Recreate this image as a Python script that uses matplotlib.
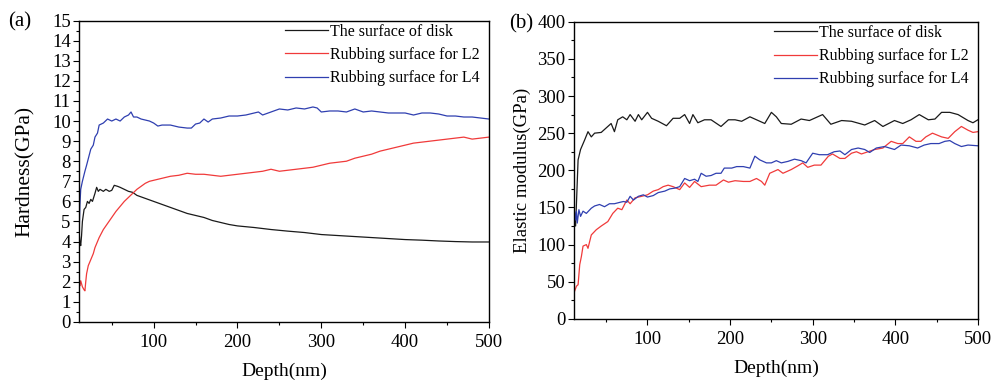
import numpy as np
import matplotlib
matplotlib.use("Agg")
import matplotlib.pyplot as plt
from matplotlib.ticker import MultipleLocator

plt.rcParams['font.family'] = ['Liberation Serif', 'DejaVu Serif']

# ---- (a) hardness ----
h_disk_x = [11, 12, 13, 14, 15, 17, 19, 21, 23, 25, 27, 30, 32, 34, 36, 40, 43, 47, 50, 53, 57,
            60, 65, 70, 75, 80, 90, 100, 110, 120, 130, 140, 150, 160, 170, 180, 190, 200, 220,
            240, 260, 280, 300, 320, 340, 360, 380, 400, 420, 440, 460, 480, 500]
h_disk_y = [4.5, 4.0, 3.8, 4.3, 5.0, 5.6, 5.7, 6.0, 5.9, 6.1, 6.0, 6.4, 6.7, 6.5, 6.6, 6.5, 6.6,
            6.5, 6.55, 6.8, 6.75, 6.7, 6.6, 6.5, 6.45, 6.3, 6.15, 6.0, 5.85, 5.7, 5.55, 5.4, 5.3,
            5.2, 5.05, 4.95, 4.85, 4.78, 4.7, 4.6, 4.52, 4.45, 4.35, 4.3, 4.25, 4.2, 4.15, 4.1,
            4.07, 4.03, 4.0, 3.98, 3.98]

h_l2_x = [11, 12, 13, 14, 15, 17, 18, 19, 20, 22, 25, 28, 30, 35, 40, 45, 50, 55, 60, 65, 70, 75,
          80, 85, 90, 95, 100, 110, 120, 130, 140, 150, 160, 170, 180, 190, 200, 210, 220, 230,
          240, 250, 260, 270, 280, 290, 300, 310, 320, 330, 340, 350, 360, 370, 380, 390, 400,
          410, 420, 430, 440, 450, 460, 470, 480, 490, 500]
h_l2_y = [1.9, 1.8, 2.05, 1.9, 1.75, 1.6, 1.55, 2.0, 2.4, 2.8, 3.1, 3.4, 3.7, 4.2, 4.6, 4.9, 5.2,
          5.5, 5.75, 6.0, 6.2, 6.4, 6.6, 6.75, 6.9, 7.0, 7.05, 7.15, 7.25, 7.3, 7.4, 7.35, 7.35,
          7.3, 7.25, 7.3, 7.35, 7.4, 7.45, 7.5, 7.6, 7.5, 7.55, 7.6, 7.65, 7.7, 7.8, 7.9, 7.95,
          8.0, 8.15, 8.25, 8.35, 8.5, 8.6, 8.7, 8.8, 8.9, 8.95, 9.0, 9.05, 9.1, 9.15, 9.2, 9.1,
          9.15, 9.2]

h_l4_x = [11, 12, 13, 15, 18, 20, 25, 28, 30, 33, 35, 40, 45, 50, 55, 60, 65, 70, 73, 76, 80, 85,
          90, 95, 100, 105, 110, 120, 130, 140, 145, 150, 155, 160, 165, 170, 180, 190, 200, 210,
          220, 225, 230, 240, 250, 260, 270, 280, 290, 295, 300, 310, 320, 330, 340, 350, 360,
          370, 380, 390, 400, 410, 420, 430, 440, 450, 460, 470, 480, 490, 500]
h_l4_y = [4.2, 5.8, 6.6, 7.0, 7.5, 7.8, 8.6, 8.8, 9.2, 9.4, 9.8, 9.9, 10.1, 10.0, 10.1, 10.0, 10.2,
          10.3, 10.45, 10.2, 10.2, 10.1, 10.05, 10.0, 9.9, 9.75, 9.8, 9.8, 9.7, 9.65, 9.65, 9.85,
          9.9, 10.1, 9.95, 10.1, 10.15, 10.25, 10.25, 10.3, 10.4, 10.45, 10.3, 10.45, 10.6, 10.55,
          10.65, 10.6, 10.7, 10.65, 10.45, 10.5, 10.5, 10.45, 10.6, 10.45, 10.5, 10.45, 10.4,
          10.4, 10.4, 10.3, 10.4, 10.4, 10.35, 10.25, 10.25, 10.2, 10.2, 10.15, 10.1]

# ---- (b) elastic modulus ----
e_disk_x = [11, 13, 16, 19, 24, 28, 32, 36, 44, 52, 56, 60, 64, 70, 75, 79, 85, 89, 93, 100, 105,
            113, 123, 131, 139, 145, 151, 155, 161, 169, 177, 189, 198, 206, 214, 224, 234, 242,
            250, 256, 262, 274, 286, 296, 312, 322, 335, 347, 363, 375, 385, 399, 409, 419, 429,
            440, 448, 456, 466, 476, 488, 494, 500]
e_disk_y = [151, 125, 214, 228, 241, 252, 245, 250, 251, 259, 263, 252, 268, 272, 268, 275, 266,
            275, 268, 278, 270, 266, 260, 270, 270, 275, 263, 275, 264, 268, 268, 259, 268, 268,
            266, 272, 267, 263, 278, 272, 263, 262, 269, 267, 275, 262, 267, 266, 261, 267, 259,
            267, 263, 268, 275, 268, 269, 278, 278, 275, 267, 264, 268]

e_l2_x = [11, 14, 16, 18, 20, 22, 26, 28, 32, 38, 44, 52, 58, 64, 69, 75, 79, 85, 93, 100, 107,
          113, 119, 125, 131, 139, 145, 151, 157, 165, 175, 183, 192, 198, 206, 216, 224, 232,
          238, 242, 248, 258, 264, 274, 282, 288, 294, 302, 310, 319, 324, 333, 339, 347, 353,
          359, 367, 375, 385, 395, 403, 409, 417, 425, 431, 437, 445, 456, 464, 472, 480, 488,
          494, 500]
e_l2_y = [35, 44, 46, 73, 84, 98, 100, 95, 113, 120, 125, 131, 142, 149, 147, 160, 155, 163, 165,
          167, 172, 174, 178, 180, 178, 174, 183, 177, 185, 178, 180, 180, 187, 184, 186, 185,
          185, 189, 185, 180, 196, 201, 196, 201, 206, 210, 204, 207, 207, 219, 222, 216, 216,
          223, 225, 222, 225, 228, 230, 239, 236, 236, 245, 239, 239, 245, 250, 245, 243, 252,
          259, 254, 251, 252]

e_l4_x = [11, 13, 14, 15, 17, 19, 22, 26, 32, 36, 42, 48, 54, 60, 67, 71, 75, 79, 83, 89, 95,
          100, 107, 113, 121, 127, 133, 139, 145, 151, 157, 161, 165, 171, 177, 183, 189, 193,
          202, 208, 216, 224, 230, 236, 244, 250, 256, 262, 270, 278, 286, 292, 300, 308, 318,
          326, 333, 339, 347, 355, 363, 369, 377, 387, 399, 407, 417, 427, 435, 443, 453, 460,
          466, 472, 480, 488, 500]
e_l4_y = [149, 133, 145, 129, 147, 138, 145, 142, 149, 152, 154, 151, 155, 155, 157, 158, 157,
          165, 160, 165, 167, 164, 166, 170, 172, 175, 176, 178, 189, 186, 188, 185, 196, 192,
          193, 196, 196, 203, 203, 205, 205, 203, 219, 214, 210, 210, 213, 210, 212, 215, 213,
          210, 223, 221, 221, 225, 226, 221, 228, 230, 228, 224, 230, 232, 228, 234, 233, 230,
          234, 236, 236, 239, 240, 236, 232, 234, 233]

labels = ['The surface of disk', 'Rubbing surface for L2', 'Rubbing surface for L4']
colors = ['#1a1a1a', '#f03a3a', '#2f3fb0']

fig = plt.figure(figsize=(9.93, 3.81), dpi=100)
ax1 = fig.add_axes([0.0796, 0.155, 0.4128, 0.791])
ax2 = fig.add_axes([0.578, 0.163, 0.4068, 0.780])

ax1.plot(h_disk_x, h_disk_y, color=colors[0], lw=0.9, label=labels[0])
ax1.plot(h_l2_x, h_l2_y, color=colors[1], lw=0.9, label=labels[1])
ax1.plot(h_l4_x, h_l4_y, color=colors[2], lw=0.9, label=labels[2])

ax2.plot(e_disk_x, e_disk_y, color=colors[0], lw=0.9, label=labels[0])
ax2.plot(e_l2_x, e_l2_y, color=colors[1], lw=0.9, label=labels[1])
ax2.plot(e_l4_x, e_l4_y, color=colors[2], lw=0.9, label=labels[2])

ax1.set_ylim(0, 15)
ax1.yaxis.set_major_locator(MultipleLocator(1))
ax1.yaxis.set_minor_locator(MultipleLocator(0.5))
ax1.set_ylabel('Hardness(GPa)', fontsize=15.5, labelpad=12)

ax2.set_ylim(0, 400)
ax2.yaxis.set_major_locator(MultipleLocator(50))
ax2.yaxis.set_minor_locator(MultipleLocator(25))
ax2.set_ylabel('Elastic modulus(GPa)', fontsize=13.5, labelpad=5)

for ax in (ax1, ax2):
    ax.set_xlim(11, 500)
    ax.set_xticks([100, 200, 300, 400, 500])
    ax.xaxis.set_minor_locator(MultipleLocator(50))
    ax.set_xlabel('Depth(nm)', fontsize=14, labelpad=8)
    ax.tick_params(which='major', direction='out', length=4, width=0.8, labelsize=13.5, pad=2)
    ax.tick_params(which='minor', direction='out', length=2.5, width=0.8)
    ax.tick_params(axis='x', which='major', pad=5)
    for s in ax.spines.values():
        s.set_linewidth(1.0)
    ax.legend(loc='upper right', bbox_to_anchor=(0.985, 1.0), frameon=False, fontsize=11.5,
              handlelength=2.7, handletextpad=0.1, labelspacing=0.45,
              borderaxespad=0.1, borderpad=0.1)

fig.text(0.008, 0.942, '(a)', fontsize=15, va='center')
fig.text(0.513, 0.937, '(b)', fontsize=15, va='center')

fig.savefig('out.png', dpi=100)
